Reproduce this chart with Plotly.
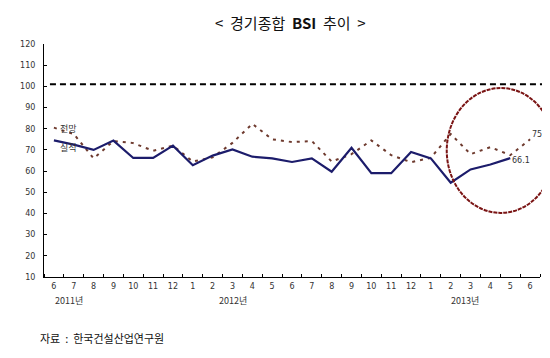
import plotly.graph_objects as go

months = ["6", "7", "8", "9", "10", "11", "12",
          "1", "2", "3", "4", "5", "6", "7", "8", "9", "10", "11", "12",
          "1", "2", "3", "4", "5", "6"]
years = ["2011년", "2012년", "2013년"]
year_pos = [0.74, 9.05, 20.7]

actual = [74.5, 72.5, 70.0, 74.4, 66.2, 66.2, 72.0, 62.8, 67.3, 70.2,
          66.8, 66.0, 64.3, 66.0, 59.7, 71.0, 59.0, 59.0, 69.0, 66.0,
          54.5, 60.8, 63.1, 66.1]
forecast = [80.5, 77.5, 66.0, 74.2, 73.2, 69.6, 72.0, 64.5, 66.5, 73.3,
            82.3, 75.0, 73.7, 74.2, 64.5, 68.0, 74.5, 67.5, 64.2, 66.3,
            77.5, 68.0, 71.3, 67.5, 75.0]

x_act = list(range(len(actual)))
x_fc = list(range(len(forecast)))

FONT = "Noto Sans CJK KR"

fig = go.Figure()
fig.add_trace(go.Scatter(x=x_fc, y=forecast, mode="lines",
                         line=dict(color="#6E3A2E", width=2, dash="3px,5px"),
                         showlegend=False))
fig.add_trace(go.Scatter(x=x_act, y=actual, mode="lines",
                         line=dict(color="#1C1C6B", width=2.2),
                         showlegend=False))

# reference dashed line near 100
fig.add_shape(type="line", xref="paper", yref="y", x0=0.012, x1=1.016, y0=101, y1=101,
              line=dict(color="black", width=2, dash="6px,4px"))
# highlight ellipse
fig.add_shape(type="circle", xref="paper", yref="paper", x0=0.812, x1=1.03, y0=0.275, y1=0.811,
              line=dict(color="#7A1414", width=2, dash="4px,1px"))

annotations = [
    dict(text="&lt;  경기종합  <b>BSI</b>  추이  &gt;", xref="paper", yref="paper",
         x=(278 - 27) / 505, y=(269 - 14) / 233, showarrow=False,
         font=dict(size=15, color="#111", family=FONT), xanchor="center", yanchor="middle"),
    dict(text="전망", xref="paper", yref="paper", x=(41 - 27) / 505, y=(269 - 112) / 233,
         showarrow=False, font=dict(size=9, color="#333", family=FONT)),
    dict(text="실적", xref="paper", yref="paper", x=(41 - 27) / 505, y=(269 - 139) / 233,
         showarrow=False, font=dict(size=9, color="#333", family=FONT)),
    dict(text=f"{forecast[-1]:.1f}", x=len(forecast) - 1, y=forecast[-1], xref="x", yref="y",
         xanchor="left", xshift=0, yshift=5, showarrow=False,
         font=dict(size=8, color="#333", family="DejaVu Sans")),
    dict(text=f"{actual[-1]:.1f}", x=len(actual) - 1, y=actual[-1], xref="x", yref="y",
         xanchor="left", xshift=0, yshift=-2, showarrow=False,
         font=dict(size=8, color="#333", family="DejaVu Sans")),
    dict(text="자료  :  한국건설산업연구원", xref="paper", yref="paper",
         x=0, xshift=-6, y=(269 - 340) / 233, xanchor="left", showarrow=False,
         font=dict(size=11, color="#111", family=FONT)),
]
for yr, xp in zip(years, year_pos):
    annotations.append(dict(text=yr, x=xp, xref="x", yref="paper", y=(269 - 301) / 233,
                            showarrow=False, font=dict(size=9, color="#333", family=FONT)))

fig.update_layout(
    width=550, height=358,
    margin=dict(l=27, r=18, t=36, b=89),
    paper_bgcolor="white", plot_bgcolor="white",
    annotations=annotations,
    xaxis=dict(range=[-0.5, 24.5], tickmode="array", tickvals=list(range(len(months))),
               ticktext=months, ticks="", showline=True, linecolor="black", linewidth=1,
               showgrid=False, zeroline=False, ticklabelstandoff=1,
               tickfont=dict(size=8, color="#333", family="DejaVu Sans"),
               minor=dict(tickmode="array", tickvals=[i + 0.5 for i in range(-1, 25)],
                          ticks="inside", ticklen=3, tickcolor="black", showgrid=False)),
    yaxis=dict(range=[10, 120], dtick=10, tick0=10, ticks="inside", ticklen=3,
               tickcolor="black", showline=True, linecolor="black", linewidth=1,
               showgrid=False, zeroline=False, ticklabelstandoff=6,
               tickfont=dict(size=8, color="#333", family="DejaVu Sans")),
)

fig.write_html("out.html")
